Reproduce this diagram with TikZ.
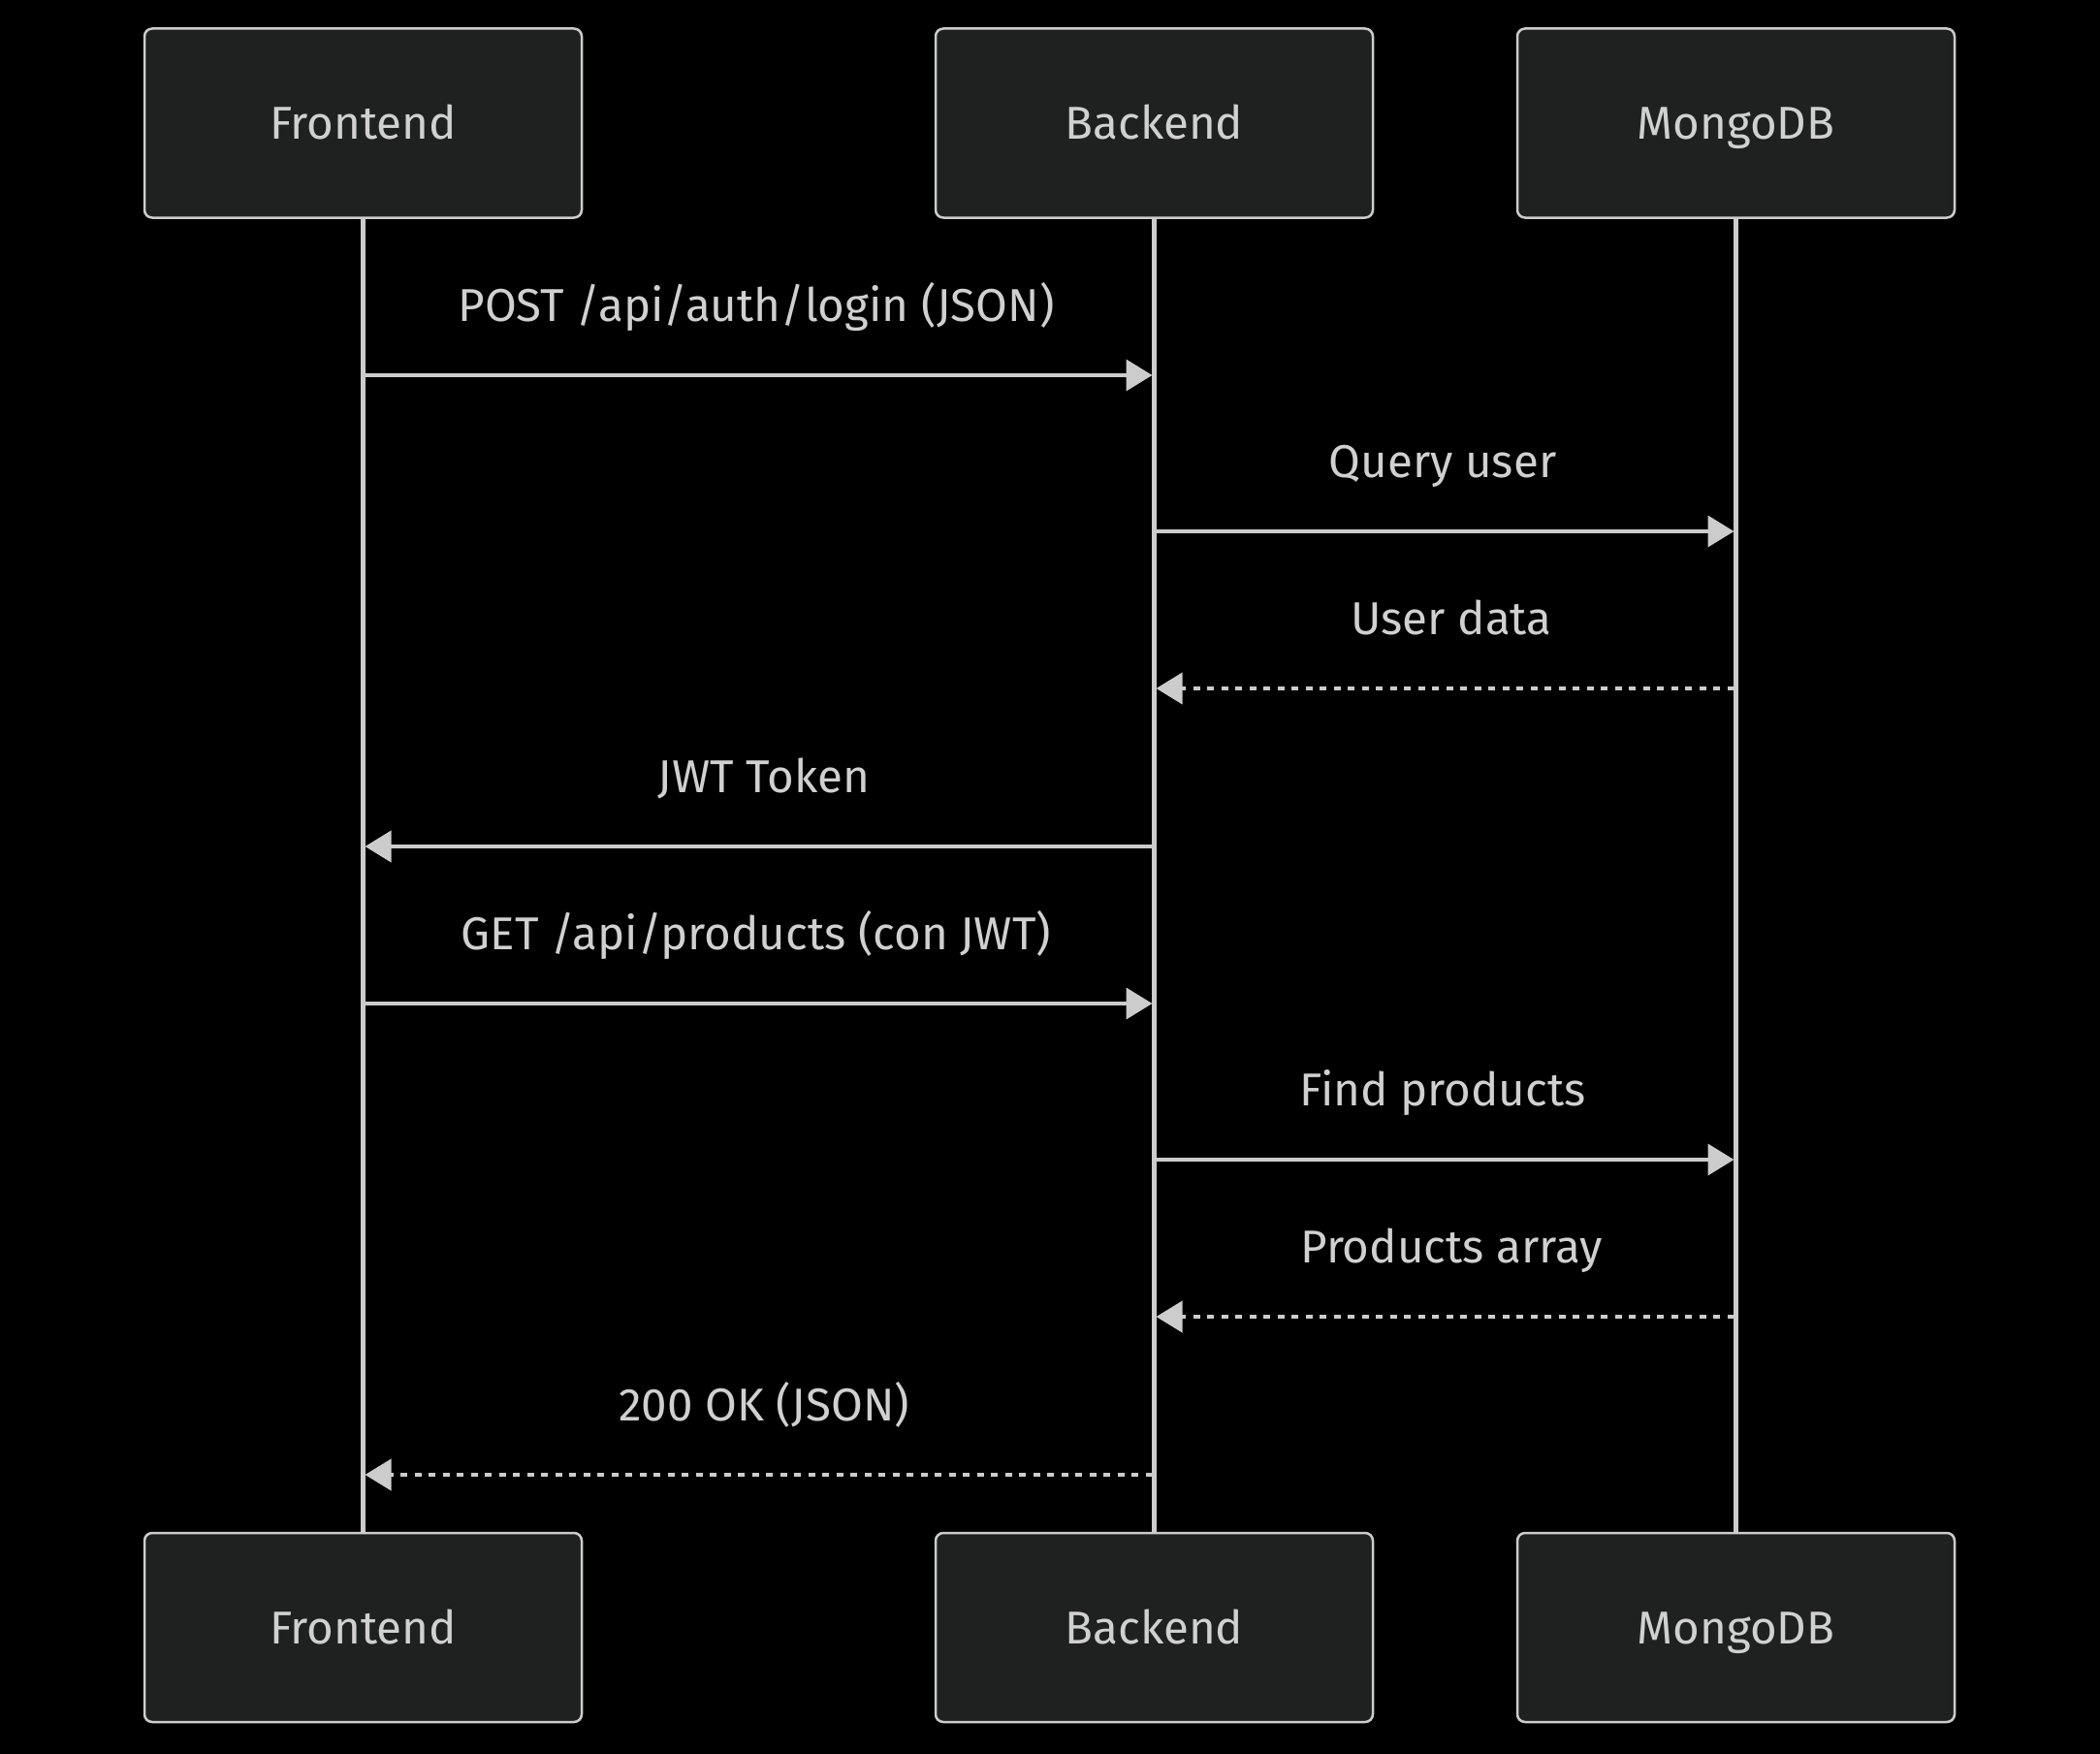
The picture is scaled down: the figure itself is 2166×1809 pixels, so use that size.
\documentclass[tikz,border=0pt]{standalone}
\usepackage{fontspec}
\setmainfont{Fira Sans}
\usetikzlibrary{arrows.meta}
\definecolor{boxfill}{HTML}{1F2020}
\definecolor{ln}{HTML}{CCCCCC}
\definecolor{txt}{HTML}{D0D0D0}
\begin{document}
\begin{tikzpicture}[x=1pt,y=-1pt,
  actor/.style={draw=ln,fill=boxfill,line width=2.5pt,rounded corners=8pt,
    minimum width=451pt,minimum height=195pt,inner sep=0pt,
    text height=33pt,text depth=0pt,
    text=txt,font=\fontsize{47.5}{55}\selectfont},
  life/.style={draw=ln,line width=4.5pt},
  msg/.style={draw=ln,line width=4pt,-{Triangle[length=27pt,width=32pt]}},
  reply/.style={msg,dash pattern=on 7pt off 7.5pt},
  lbl/.style={anchor=base,text=txt,font=\fontsize{47.5}{55}\selectfont,inner sep=0pt}]
\fill[black] (0,0) rectangle (2166,1809);
\useasboundingbox (0,0) rectangle (2166,1809);
% actors
\node[actor] (ft) at (374.5,127) {Frontend};
\node[actor] (bt) at (1190.5,127) {Backend};
\node[actor] (mt) at (1790.5,127) {MongoDB};
\node[actor] (fb) at (374.5,1678.5) {Frontend};
\node[actor] (bb) at (1190.5,1678.5) {Backend};
\node[actor] (mb) at (1790.5,1678.5) {MongoDB};
% lifelines
\draw[life] (ft.south) -- (fb.north);
\draw[life] (bt.south) -- (bb.north);
\draw[life] (mt.south) -- (mb.north);
% message points
\foreach \n/\y in {1/387,2/548,3/710,4/873,5/1035,6/1196,7/1358,8/1521}{
  \coordinate (f\n) at (376.5,\y);
  \coordinate (b\n) at (1188.5,\y);
  \coordinate (bl\n) at (1192.5,\y);
  \coordinate (m\n) at (1788.5,\y);
  \coordinate (fr\n) at (376.5,\y);
  \coordinate (fs\n) at (372.5,\y);
}
\draw[msg] (fs1) -- (b1);
\node[lbl] (l1) at (780,331) {POST /api/auth/login (JSON)};
\draw[msg] (bl2) -- (m2);
\node[lbl] (l2) at (1488,492) {Query user};
\draw[reply] (m3) -- (bl3);
\node[lbl] (l3) at (1497,654) {User data};
\draw[msg] (b4) -- (fr4);
\node[lbl] (l4) at (788,817) {JWT Token};
\draw[msg] (fs5) -- (b5);
\node[lbl] (l5) at (780,979) {GET /api/products (con JWT)};
\draw[msg] (bl6) -- (m6);
\node[lbl] (l6) at (1488,1140) {Find products};
\draw[reply] (m7) -- (bl7);
\node[lbl] (l7) at (1497,1302) {Products array};
\draw[reply] (b8) -- (fr8);
\node[lbl] (l8) at (788,1465) {200 OK (JSON)};
\end{tikzpicture}
\end{document}
